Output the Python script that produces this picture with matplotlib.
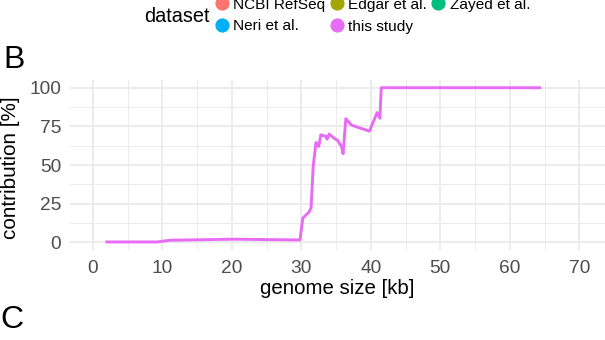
import numpy as np
import matplotlib as mpl
mpl.use('Agg')
import matplotlib.pyplot as plt
from matplotlib.lines import Line2D

plt.rcParams['font.family'] = ['Liberation Sans', 'DejaVu Sans']

# cumulative contribution of "this study" vs genome size
genome_kb = [2.0, 9.2, 11.1, 20.1, 29.8, 30.2, 30.5, 31.1, 31.4, 31.7, 32.1,
             32.5, 32.8, 33.5, 33.7, 34.0, 34.8, 35.2, 35.8, 36.0, 36.4, 37.2,
             39.8, 40.9, 41.3, 41.5, 64.3]
contribution = [0.2, 0.2, 1.3, 2.0, 1.5, 15.5, 17.0, 19.5, 22.5, 49.0, 64.5,
                62.0, 69.5, 68.6, 66.7, 70.0, 67.0, 66.0, 61.7, 57.3, 80.0,
                75.8, 71.9, 83.9, 80.2, 100.0, 100.0]

datasets = ['NCBI RefSeq', 'Edgar et al.', 'Zayed et al.', 'Neri et al.', 'this study']
colors = ['#F8766D', '#A3A500', '#00BF7D', '#00B0F6', '#E76BF3']

xticks = [0, 10, 20, 30, 40, 50, 60, 70]
yticks = [0, 25, 50, 75, 100]

W, H = 605, 340
fig = plt.figure(figsize=(W / 100, H / 100), dpi=100)
ax = fig.add_axes([70 / W, 1 - 250 / H, 1 - 70 / W, 170 / H])

ax.plot(genome_kb, contribution, color=colors[4], lw=2.1, solid_joinstyle='round', zorder=3)

ax.set_xlim(-3.3, 73.7)
ax.set_ylim(-5, 105)
ax.set_xticks(xticks)
ax.set_yticks(yticks)
ax.set_xticks(np.arange(5, 75, 10), minor=True)
ax.set_yticks([12.5, 37.5, 62.5, 87.5], minor=True)
ax.grid(True, which='major', color='#EBEBEB', lw=1.3)
ax.grid(True, which='minor', color='#EBEBEB', lw=0.7)
ax.set_axisbelow(True)
for s in ax.spines.values():
    s.set_visible(False)
ax.tick_params(which='both', length=0, labelsize=13.8, labelcolor='#4D4D4D')
ax.tick_params(axis='x', pad=7)
ax.tick_params(axis='y', pad=6.5)
ax.set_xlabel('genome size [kb]', fontsize=14.7, labelpad=2)
ax.set_ylabel('contribution [%]', fontsize=14.9)
ax.yaxis.set_label_coords(-0.093, 0.485)

# legend laid out row-wise (ggplot style), positions in pixels
leg_cols = [221.7, 336.7, 438.0]
leg_rows = [3.0, 25.0]
for i, (name, col) in enumerate(zip(datasets, colors)):
    cx = leg_cols[i % 3]
    cy = leg_rows[i // 3]
    fig.add_artist(Line2D([cx / W], [1 - cy / H], transform=fig.transFigure, ls='none',
                          marker='o', ms=9.2, mfc=col, mec=col))
    fig.text((cx + 11.5) / W, 1 - (cy + 5.5) / H, name, fontsize=11.1,
             ha='left', va='baseline')
fig.text(210 / W, 1 - 22 / H, 'dataset', fontsize=14.3, ha='right', va='baseline')

fig.text(3 / W, 1 - 60 / H, 'B', fontsize=23, ha='left', va='center')
fig.text(0.5 / W, 1 - 320 / H, 'C', fontsize=23, ha='left', va='center')

fig.savefig('out.png', dpi=100)
